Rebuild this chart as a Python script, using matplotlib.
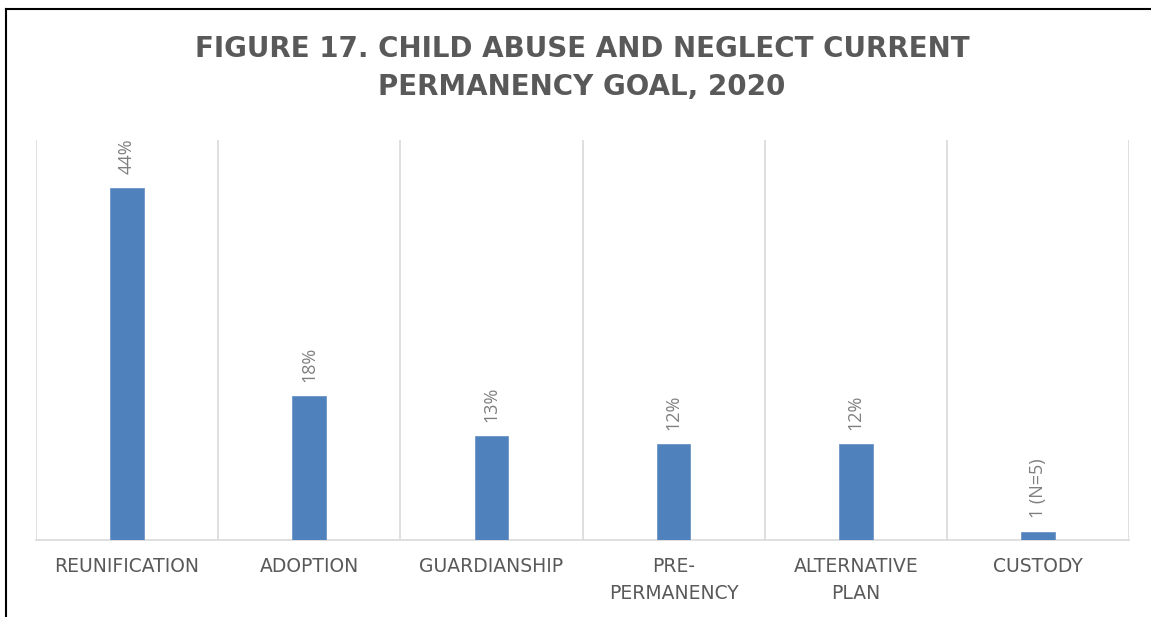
import matplotlib
matplotlib.use("Agg")
import matplotlib.pyplot as plt
from matplotlib.lines import Line2D

# data
categories = ["REUNIFICATION", "ADOPTION", "GUARDIANSHIP", "PRE-\nPERMANENCY", "ALTERNATIVE\nPLAN", "CUSTODY"]
values = [44, 18, 13, 12, 12, 1]
value_labels = ["44%", "18%", "13%", "12%", "12%", "1 (N=5)"]

plt.rcParams['font.family'] = ['DejaVu Sans']

fig = plt.figure(figsize=(11.51, 6.17), dpi=100)
ax = fig.add_axes([36 / 1151, 1 - 540 / 617, (1129 - 36) / 1151, 400 / 617])

x = range(len(categories))
bars = ax.bar(x, values, width=0.185, color="#4f81bd", edgecolor="#6f96c8", linewidth=0.6, zorder=3)

for xi, v, lab in zip(x, values, value_labels):
    ax.annotate(lab, (xi, v), xytext=(0, 10), textcoords="offset points",
                rotation=90, ha="center", va="bottom", fontsize=13, color="#7f7f7f",
                family="Open Sans")

ax.set_xlim(-0.5, len(categories) - 0.5)
ax.set_ylim(0, 50)
ax.set_yticks([])
ax.set_xticks(list(x))
ax.set_xticklabels(categories, fontsize=13.5, color="#595959", linespacing=1.55)
ax.tick_params(axis="x", length=0, pad=12)

# vertical separators between categories
for b in [i - 0.5 for i in range(len(categories) + 1)]:
    ax.axvline(b, color="#d9d9d9", linewidth=1.2, zorder=1)

for s in ["top", "left", "right"]:
    ax.spines[s].set_visible(False)
ax.spines["bottom"].set_color("#d9d9d9")
ax.spines["bottom"].set_linewidth(1.2)

fig.text(582 / 1151, 1 - 68 / 617, "FIGURE 17. CHILD ABUSE AND NEGLECT CURRENT\nPERMANENCY GOAL, 2020",
         ha="center", va="center", fontsize=20, fontweight="bold", color="#595959", linespacing=1.45)

# frame lines top and left
fig.add_artist(Line2D([6 / 1151, 1], [1 - 9 / 617, 1 - 9 / 617], color="black", linewidth=1.5))
fig.add_artist(Line2D([6 / 1151, 6 / 1151], [0, 1 - 9 / 617], color="black", linewidth=1.5))

fig.savefig("out.png", dpi=100)
